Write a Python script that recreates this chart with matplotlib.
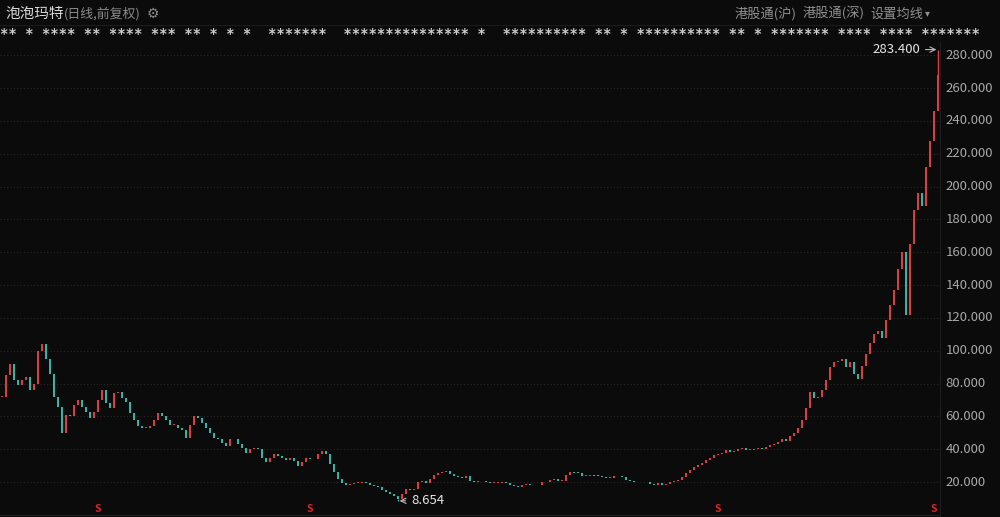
import matplotlib
matplotlib.use("Agg")
import matplotlib.pyplot as plt

# ---- data ----
closes = [72, 85, 92, 82, 79, 82, 84, 76, 80, 100, 104, 95, 86, 72, 66, 50, 61, 60, 67, 70,
          66, 63, 59, 63, 70, 76, 68, 65, 74, 75, 71, 69, 62, 58, 54, 53, 53, 54, 58, 62,
          60, 58, 55, 55, 53, 52, 47, 55, 60, 59, 56, 53, 50, 47, 46, 44, 42, 46, 46, 43,
          41, 38, 40, 41, 40, 35, 32, 35, 37, 36, 35, 33.5, 34.5, 33, 30, 32, 34.5, 34, 34, 37,
          39, 37, 31, 26, 22, 19.5, 18, 19, 19.5, 19.5, 20, 19.5, 18.5, 17.5, 17, 15, 14, 13, 11.5, 10,
          13, 16, 15, 16, 20, 21, 19.5, 22, 24.5, 25.8, 26, 27, 25, 23.5, 23, 22.5, 23.5, 21, 20, 20.5,
          21, 20, 19.5, 19.5, 19.8, 20, 19.5, 18.5, 17.5, 17, 18, 19, 18.5, 18, 18.5, 20, 20, 21.5, 22, 21,
          21, 24.5, 26, 25.8, 25.5, 24, 24, 24.2, 24, 23.8, 23, 22.5, 22.8, 23.5, 24, 23, 21.5, 20.5, 20, 20,
          20.2, 20, 19, 18.5, 19.5, 18, 19, 20, 20.5, 21.5, 23, 25.5, 27.5, 29, 30.5, 31.6, 33.5, 35, 36.5, 37,
          38, 39.5, 38.5, 39, 40, 41, 39.5, 39.5, 40.5, 41, 40, 41.5, 42.5, 43.5, 44.5, 46, 45, 48, 50, 53,
          58, 65, 75, 71, 72, 76, 82, 90, 93, 94, 95, 90, 93, 86, 83, 91, 98, 105, 110, 112,
          108, 119, 128, 137, 150, 160, 122, 165, 186, 196, 188, 212, 228, 246, 268]
max_price = 283.400
min_price = 8.654
max_idx = 234
min_idx = 99
yticks = [20, 40, 60, 80, 100, 120, 140, 160, 180, 200, 220, 240, 260, 280]
event_idx = [24, 77, 179, 233]

title = "泡泡玛特"
subtitle = "(日线,前复权)"
buttons = ["港股通(沪)", "港股通(深)", "设置均线"]

UP = "#d6403f"
DOWN = "#35b3a4"
BG = "#0b0b0b"
FONTS = ["Noto Sans CJK SC", "DejaVu Sans"]
plt.rcParams["font.family"] = FONTS

W, H = 1000, 517
fig = plt.figure(figsize=(W / 100, H / 100), dpi=100, facecolor=BG)
ax = fig.add_axes([0, 0, 940 / W, (517 - 43) / H], facecolor=BG)

n = len(closes)
opens = [closes[0]] + closes[:-1]
for i in range(n):
    o, c = opens[i], closes[i]
    col = UP if c >= o else DOWN
    lo, hi = min(o, c), max(o, c)
    if hi - lo < 0.4:
        hi = lo + 0.4
    ax.bar(i, hi - lo, bottom=lo, width=0.45, color=col, linewidth=0)
# wicks for extremes
ax.vlines(max_idx, max(closes[max_idx], opens[max_idx]), max_price, color=UP, lw=1)
ax.vlines(min_idx, min_price, min(closes[min_idx], opens[min_idx]), color=DOWN, lw=1)

ax.set_xlim(-0.5, n - 0.5)
ax.set_ylim(-1.2, 287.4)
for t in yticks:
    ax.axhline(t, color="#2a2a2a", lw=0.8, ls=(0, (1, 2)), zorder=0)
ax.set_xticks([])
ax.set_yticks([])
for s in ax.spines.values():
    s.set_visible(False)
ax.spines["right"].set_visible(True)
ax.spines["right"].set_color("#1e1e1e")

# y labels on right
for t in yticks:
    ax.text(1.006, t, f"{t:.3f}", transform=ax.get_yaxis_transform(), color="#a8a8a8",
            fontsize=9.5, va="center", ha="left", family=FONTS)

# annotations
ax.annotate(f"{max_price:.3f}", xy=(max_idx + 0.3, max_price), xytext=(max_idx - 4.5, max_price),
            color="#e6e6e6", fontsize=9.5, va="center", ha="right",
            arrowprops=dict(arrowstyle="->", color="#bbbbbb", lw=0.8))
ax.annotate(f"{min_price:.3f}", xy=(min_idx - 0.3, min_price), xytext=(min_idx + 3.3, min_price),
            color="#e6e6e6", fontsize=9.5, va="center", ha="left",
            arrowprops=dict(arrowstyle="->", color="#bbbbbb", lw=0.8))

# event markers
for e in event_idx:
    ax.text(e, 3.5, "S", color="#e02424", fontsize=7.5, fontweight="bold", ha="center", va="center")
ax.axhline(0, color="#1e1e1e", lw=0.8)

# header
fig.text(5 / W, 1 - 14 / H, title, color="#d8d8d8", fontsize=10.5, va="center", ha="left")
fig.text(64 / W, 1 - 14 / H, subtitle, color="#8a8a8a", fontsize=9.3, va="center", ha="left")
fig.text(153 / W, 1 - 14 / H, "⚙", color="#8a8a8a", fontsize=10, va="center", ha="center",
         family=["DejaVu Sans"])
bx = [735, 803, 870]
for x, b in zip(bx, buttons):
    fig.text(x / W, 1 - 14 / H, b, color="#8f8f8f", fontsize=9.5, va="center", ha="left")
fig.text(927 / W, 1 - 13 / H, "▾", color="#8f8f8f", fontsize=7, va="center", ha="center",
         family=["DejaVu Sans"])
fig.add_artist(plt.Line2D([0, 0.95], [1 - 25 / H, 1 - 25 / H], color="#1c1c1c", lw=0.8))

# masked row of asterisks
stars = ("** * **** ** **** *** ** * * *  *******  *************** *  ********** ** * "
         "********** ** * ******* **** **** *******")
fig.text(0, 1 - 34 / H, stars, color="#cccccc", fontsize=10, va="center", ha="left",
         family=["DejaVu Sans Mono"], fontweight="bold")

fig.savefig("out.png", dpi=100, facecolor=BG)
